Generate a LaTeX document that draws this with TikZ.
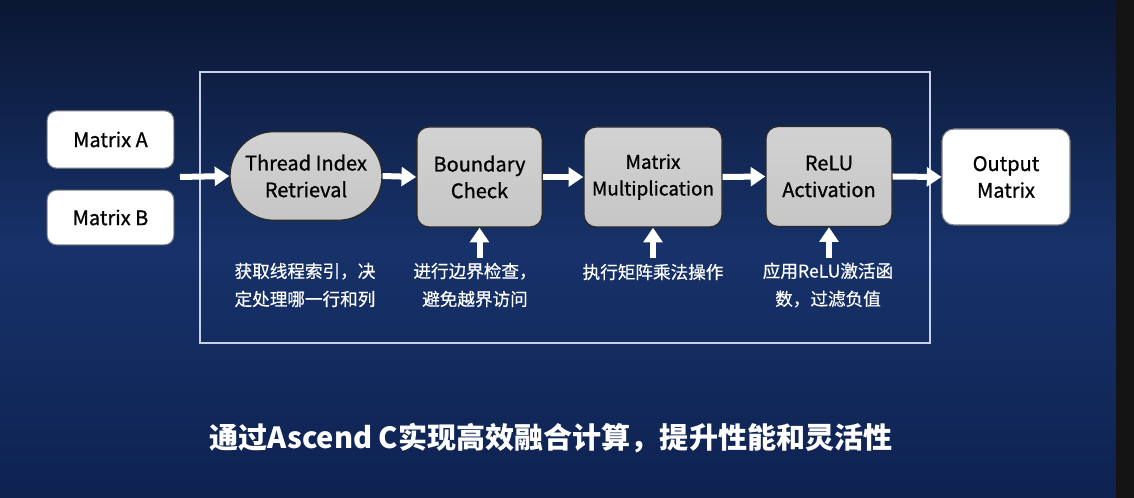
\documentclass[tikz,border=0pt]{standalone}
\usepackage{fontspec}
\setmainfont{Noto Sans CJK SC}
\newfontfamily\boxfont[FakeBold=0.9]{Noto Sans CJK SC}
\newfontfamily\capfont[FakeBold=0.5]{Noto Sans CJK SC}
\usetikzlibrary{arrows.meta,positioning}
\definecolor{bgtop}{HTML}{0B1733}
\definecolor{bgmid}{HTML}{17326A}
\definecolor{bgbot}{HTML}{0E2250}
\definecolor{boxgray}{HTML}{C6C6C6}
\definecolor{boxgraytop}{HTML}{D2D2D2}
\definecolor{boxedge}{HTML}{2A2A2A}
\definecolor{framec}{HTML}{C8D2E6}
\tikzset{
  whitebox/.style={draw=boxedge!60, line width=0.8pt, fill=white, rounded corners=7pt, align=center, font=\boxfont\fontsize{15}{20}\selectfont, text=black},
  graybox/.style={draw=boxedge, line width=1pt, top color=boxgraytop, bottom color=boxgray, rounded corners=9pt, align=center, font=\boxfont\fontsize{15}{20}\selectfont, text=black, minimum height=75pt},
  caption/.style={align=center, text=white, font=\capfont\fontsize{13.2}{21}\selectfont},
  flow/.style={draw=white, line width=4.5pt, -{Triangle[width=14pt,length=11pt]}},
}
\begin{document}
\begin{tikzpicture}[x=0.75pt,y=-0.75pt]
\useasboundingbox (0,0) rectangle (1134,498);
\shade[top color=bgtop, bottom color=bgbot, middle color=bgmid] (0,0) rectangle (1116,498);
\fill[black!92] (1116,0) rectangle (1134,498);
\draw[framec, line width=1.3pt] (200,72) rectangle (930,343);

\node[whitebox, minimum width=95pt, minimum height=43pt] (ma) at (110.5,139.5) {Matrix A};
\node[whitebox, minimum width=95pt, minimum height=41pt] (mb) at (110.5,217.5) {Matrix B};
\coordinate (in) at (180,177);

\node[graybox, minimum width=114pt, minimum height=66.5pt, rounded corners=33pt] (tir) at (306,176) {Thread Index\\Retrieval};
\node[graybox, minimum width=94pt] (bc) at (479.5,177) {Boundary\\Check};
\node[graybox, minimum width=103.5pt, font=\boxfont\fontsize{14.2}{20}\selectfont] (mm) at (653,177) {Matrix\\Multiplication};
\node[graybox, minimum width=94.5pt] (re) at (829,176.5) {ReLU\\Activation};
\node[whitebox, minimum width=96pt, minimum height=72pt, rounded corners=9pt] (out) at (1006,177) {Output\\Matrix};

\draw[flow] (in) -- (tir.west);
\draw[flow] (tir.east) -- (bc.west);
\draw[flow] (bc.east) -- (mm.west);
\draw[flow] (mm.east) -- (re.west);
\draw[flow] (re.east) -- (out.west);

\node[caption] (c1) at (305,285) {获取线程索引，决\\定处理哪一行和列};
\node[caption] (c2) at (475,285) {进行边界检查，\\避免越界访问};
\node[caption] (c3) at (653,272) {执行矩阵乘法操作};
\node[caption] (c4) at (828,285) {应用ReLU激活函\\数，过滤负值};

\coordinate (u2) at (479.5,258);
\coordinate (u3) at (653,258);
\coordinate (u4) at (829,258);
\draw[flow] (u2) -- (bc.south);
\draw[flow] (u3) -- (mm.south);
\draw[flow] (u4) -- (re.south);

\node[text=white, font=\fontsize{21.8}{26}\bfseries\selectfont] (title) at (551,438) {通过Ascend C实现高效融合计算，提升性能和灵活性};
\end{tikzpicture}
\end{document}
